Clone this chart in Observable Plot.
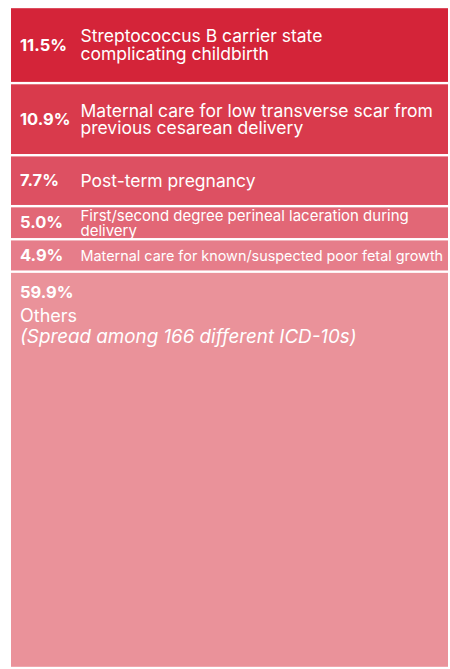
<!DOCTYPE html>
<html>
<head>
<meta charset="utf-8">
<script src="https://cdn.jsdelivr.net/npm/d3@7"></script>
<script src="https://cdn.jsdelivr.net/npm/@observablehq/plot@0.6"></script>
<style>
  html, body { margin: 0; padding: 0; background: #fff; }
  #chart svg { display: block; }
</style>
</head>
<body>
<div id="chart"></div>
<script>
const pcts = ["11.5%", "10.9%", "7.7%", "5.0%", "4.9%", "59.9%"];
const values = [11.5, 10.9, 7.7, 5.0, 4.9, 59.9];
const labels = [
  "Streptococcus B carrier state\ncomplicating childbirth",
  "Maternal care for low transverse scar from\nprevious cesarean delivery",
  "Post-term pregnancy",
  "First/second degree perineal laceration during\ndelivery",
  "Maternal care for known/suspected poor fetal growth",
  "Others"
];
const othersNote = "(Spread among 166 different ICD-10s)";
const colors = ["#d42439", "#d93a4c", "#dd5062", "#e26776", "#e67d8a", "#ea929a"];

const ends = Array.from(d3.cumsum(values));
const data = values.map((v, i) => ({
  key: i, value: v, pct: pcts[i], label: labels[i],
  y1: ends[i] - v, y2: ends[i], mid: ends[i] - v / 2
}));
const main = data.filter(d => d.key < 5);
const others = data.filter(d => d.key === 5);

const font = "Inter, 'Noto Sans', sans-serif";
const base = {x: () => 0, fill: "white", textAnchor: "start", fontFamily: font};

const chart = Plot.plot({
  width: 450,
  height: 669,
  marginLeft: 11,
  marginRight: 2,
  marginTop: 7,
  marginBottom: 1,
  x: {domain: [0, 1], axis: null},
  y: {domain: [0, d3.sum(values)], reverse: true, axis: null},
  color: {domain: data.map(d => d.key), range: colors},
  style: {fontFamily: font},
  marks: [
    Plot.rectY(data, {x1: () => 0, x2: () => 1, y1: "y1", y2: "y2", fill: "key", insetTop: 1.2, insetBottom: 1.2}),
    Plot.text(main, {...base, y: "mid", text: "pct", dx: 8.5, fontSize: 16.5, fontWeight: "bold"}),
    Plot.text(main.filter(d => d.key <= 2), {...base, y: "mid", text: "label", dx: 69, fontSize: 17.5, lineHeight: 1.0}),
    Plot.text(main.filter(d => d.key === 3), {...base, y: "mid", text: "label", dx: 69, fontSize: 15, lineHeight: 1.0}),
    Plot.text(main.filter(d => d.key === 4), {...base, y: "mid", text: "label", dx: 69, fontSize: 14.4}),
    Plot.text(others, {...base, y: "y1", text: "pct", dx: 8.5, dy: 21, fontSize: 16.5, fontWeight: "bold"}),
    Plot.text(others, {...base, y: "y1", text: "label", dx: 8.5, dy: 44, fontSize: 18}),
    Plot.text(others, {...base, y: "y1", text: () => othersNote, dx: 8.5, dy: 65, fontSize: 18.8, fontStyle: "italic"})
  ]
});
document.getElementById("chart").append(chart);
</script>
</body>
</html>
